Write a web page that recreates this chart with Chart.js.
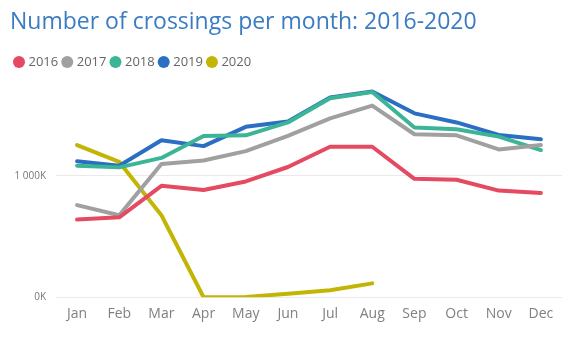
<!DOCTYPE html>
<html>
<head>
<meta charset="utf-8">
<script src="https://cdn.jsdelivr.net/npm/chart.js@4.4.1/dist/chart.umd.min.js"></script>
<style>
  html, body { margin: 0; padding: 0; background: #fff; }
  #wrap { width: 570px; height: 361px; }
</style>
</head>
<body>
<div id="wrap"><canvas id="myChart"></canvas></div>
<script>
// data, in thousands of crossings
const months = ["Jan", "Feb", "Mar", "Apr", "May", "Jun", "Jul", "Aug", "Sep", "Oct", "Nov", "Dec"];
const y2016 = [639, 658, 917, 883, 953, 1072, 1239, 1239, 975, 967, 878, 858];
const y2017 = [758, 675, 1097, 1125, 1203, 1328, 1472, 1578, 1342, 1333, 1217, 1253];
const y2018 = [1083, 1069, 1147, 1328, 1333, 1439, 1639, 1689, 1397, 1383, 1322, 1211];
const y2019 = [1119, 1083, 1292, 1244, 1403, 1447, 1644, 1694, 1514, 1439, 1336, 1300];
const y2020 = [1253, 1114, 675, 0, 2, 28, 58, 114, null, null, null, null];
const yTicks = [0, 1000];

const font = "'Segoe UI', 'Open Sans', sans-serif";

function series(label, data, color) {
  return {
    label: label,
    data: data,
    borderColor: color,
    backgroundColor: color,
    borderWidth: 4,
    pointRadius: 0,
    tension: 0,
    borderJoinStyle: 'round',
    borderCapStyle: 'round'
  };
}

const ctx = document.getElementById('myChart').getContext('2d');

const chart = new Chart(ctx, {
  type: 'line',
  data: {
    labels: months,
    datasets: [
      series("2016", y2016, '#E44A62'),
      series("2017", y2017, '#A0A0A0'),
      series("2018", y2018, '#3BB595'),
      series("2019", y2019, '#2B6FC2'),
      series("2020", y2020, '#C2B505')
    ]
  },
  options: {
    responsive: true,
    maintainAspectRatio: false,
    animation: false,
    layout: { padding: { left: 10, right: 8, bottom: 39 } },
    plugins: {
      title: {
        display: true,
        text: 'Number of crossings per month: 2016-2020',
        align: 'start',
        color: '#3A7CC3',
        font: { family: font, size: 23, weight: 'normal' },
        padding: { top: 9, bottom: 13 }
      },
      legend: {
        align: 'start',
        labels: {
          usePointStyle: true,
          pointStyle: 'circle',
          boxWidth: 6,
          boxHeight: 8.5,
          padding: 6,
          color: '#666',
          font: { family: font, size: 13 },
          generateLabels: function(c) {
            const items = Chart.defaults.plugins.legend.labels.generateLabels(c);
            items.forEach(function(it) { it.lineWidth = 0; });
            return items;
          }
        }
      },
      tooltip: { enabled: false }
    },
    scales: {
      x: {
        offset: true,
        grid: { display: false },
        border: { display: false },
        ticks: { color: '#808080', font: { family: font, size: 14 }, padding: 0 }
      },
      y: {
        min: 0,
        max: 1800,
        afterBuildTicks: function(axis) {
          axis.ticks = yTicks.map(function(v) { return { value: v }; });
        },
        afterFit: function(axis) {
          axis.width = 46;
        },
        grid: { color: '#EAEAEA', drawTicks: false },
        border: { display: false },
        ticks: {
          color: '#777',
          padding: 10,
          font: { family: font, size: 10 },
          callback: function(v) {
            return v === 0 ? '0K' : (v / 1000) + ' 000K';
          }
        }
      }
    }
  }
});
</script>
</body>
</html>
